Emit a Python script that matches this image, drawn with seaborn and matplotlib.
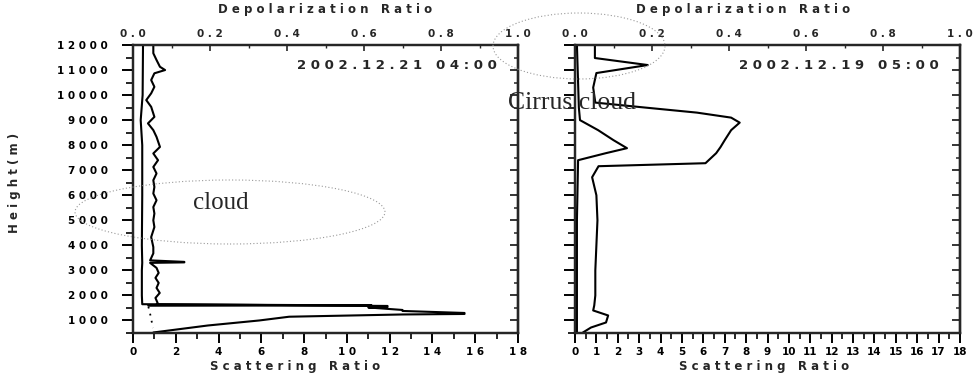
import matplotlib
matplotlib.use("Agg")
import matplotlib.pyplot as plt
import seaborn as sns
from matplotlib.patches import Ellipse
from matplotlib.ticker import MultipleLocator, FuncFormatter

# ---- 2002.12.21 04:00 profile (left) ----
left_height = [12000, 11670, 11400, 11130, 11000, 10870, 10600, 10330, 10070, 9800,
               9530, 9130, 8870, 8600, 8330, 7930, 7670, 7400, 7130, 6870,
               6600, 6330, 6070, 5800, 5530, 5270, 5000, 4730, 4330, 3930,
               3680, 3400, 3340, 3320, 3300, 3100, 2900, 2700, 2500, 2300,
               2100, 1900, 1700, 1650, 1580, 1540, 1520, 1420, 1380, 1300,
               1260, 1240, 1150, 1000, 800, 520]
left_scatter = [0.95, 0.95, 1.10, 1.26, 1.50, 1.00, 0.85, 1.00, 0.85, 0.62,
                0.85, 1.00, 0.70, 0.95, 1.10, 1.26, 0.95, 1.17, 0.95, 1.10,
                0.95, 1.00, 0.95, 1.10, 0.95, 1.00, 0.95, 1.00, 0.85, 0.95,
                0.95, 0.80, 2.40, 2.40, 0.80, 1.10, 1.20, 1.05, 1.20, 1.10,
                1.25, 1.05, 1.15, 1.10, 11.9, 11.9, 11.0, 12.6, 12.6, 15.5,
                15.5, 12.6, 7.3, 5.9, 3.5, 0.95]
left_depol_height = [12000, 10000, 9000, 8000, 6000, 4000, 3300, 3000, 2000, 1650, 1600, 1590]
left_depol = [0.026, 0.025, 0.020, 0.024, 0.024, 0.023, 0.024, 0.023, 0.023, 0.024, 0.62, 0.04]
left_depol_low_height = [1550, 1300, 1000, 700]
left_depol_low = [0.040, 0.044, 0.048, 0.052]

# ---- 2002.12.19 05:00 profile (right) ----
right_height = [12000, 11480, 11200, 10880, 10300, 9700, 9500, 9300, 9100, 8900,
                8600, 8200, 7920, 7680, 7280, 7160, 6720, 6000, 5000, 4000,
                3000, 2000, 1600, 1400, 1200, 920, 720, 520]
right_scatter = [0.93, 0.93, 3.4, 1.0, 0.85, 0.95, 3.3, 5.7, 7.3, 7.7,
                 7.3, 7.0, 6.8, 6.6, 6.1, 1.1, 0.8, 1.0, 1.05, 1.0,
                 0.95, 0.95, 0.9, 0.85, 1.55, 1.45, 0.75, 0.37]
right_depol_height = [12000, 9500, 9000, 8600, 8200, 7880, 7680, 7400, 5000, 520]
right_depol = [0.005, 0.01, 0.013, 0.06, 0.10, 0.135, 0.08, 0.008, 0.005, 0.005]

date_labels = ["2002.12.21 04:00", "2002.12.19 05:00"]


def spaced(s):
    return " ".join(s)


sns.set_style("ticks")
plt.rcParams["font.family"] = ["DejaVu Sans"]
plt.rcParams["axes.linewidth"] = 1.6

fig = plt.figure(figsize=(9.74, 3.76), dpi=100)
ax_l = fig.add_axes([133 / 974, 43 / 376, 385 / 974, 288 / 376])
ax_r = fig.add_axes([575 / 974, 43 / 376, 385 / 974, 288 / 376])


def style_axes(ax, right_panel):
    ax.set_xlim(0, 18)
    ax.set_ylim(500, 12000)
    ax.yaxis.set_major_locator(MultipleLocator(1000))
    ax.yaxis.set_minor_locator(MultipleLocator(500))
    if right_panel:
        ax.xaxis.set_major_locator(MultipleLocator(1))
        ax.xaxis.set_minor_locator(MultipleLocator(0.5))
        ax.yaxis.set_major_formatter(FuncFormatter(lambda v, p: ""))
        ax.xaxis.set_major_formatter(FuncFormatter(lambda v, p: f"{int(round(v))}"))
        xlab_x = 0.49
    else:
        ax.xaxis.set_major_locator(MultipleLocator(2))
        ax.xaxis.set_minor_locator(MultipleLocator(1))
        ax.yaxis.set_major_formatter(FuncFormatter(lambda v, p: spaced(str(int(round(v))))))
        ax.xaxis.set_major_formatter(FuncFormatter(lambda v, p: spaced(str(int(round(v))))))
        xlab_x = 0.42
    ax.tick_params(which="major", direction="out", length=7, width=1.4, colors="black", pad=3)
    ax.tick_params(which="minor", direction="out", length=4, width=1.2, colors="black")
    ax.tick_params(axis="y", which="major", length=8, pad=10)
    ax.tick_params(axis="y", which="minor", length=5)
    for lab in ax.get_xticklabels() + ax.get_yticklabels():
        lab.set_fontsize(7.5)
        lab.set_fontweight("bold")
    ax.set_xlabel(spaced("Scattering") + "   " + spaced("Ratio"),
                  fontsize=8.5, fontweight="bold")
    ax.xaxis.set_label_coords(xlab_x, -0.095)
    ax.set_ylabel("")
    for sp in ax.spines.values():
        sp.set_visible(True)
        sp.set_color("black")
        sp.set_linewidth(1.6)
    sec = ax.secondary_yaxis("right")
    sec.yaxis.set_major_locator(MultipleLocator(1000))
    sec.yaxis.set_minor_locator(MultipleLocator(500))
    sec.yaxis.set_major_formatter(FuncFormatter(lambda v, p: ""))
    sec.tick_params(which="major", direction="in", length=6, width=1.3)
    sec.tick_params(which="minor", direction="in", length=3, width=1.1)


def style_top(ax_t, label_x):
    ax_t.set_xlim(0, 1)
    ax_t.xaxis.set_major_locator(MultipleLocator(0.2))
    ax_t.xaxis.set_minor_locator(MultipleLocator(0.1))
    ax_t.xaxis.set_major_formatter(FuncFormatter(lambda v, p: spaced(f"{v:.1f}")))
    ax_t.tick_params(which="major", direction="in", length=4, width=1.2, pad=4)
    ax_t.tick_params(which="minor", direction="in", length=2, width=1.0)
    for lab in ax_t.get_xticklabels():
        lab.set_fontsize(7.5)
        lab.set_fontweight("bold")
    ax_t.set_xlabel(spaced("Depolarization") + "   " + spaced("Ratio"),
                    fontsize=8.5, fontweight="bold")
    ax_t.xaxis.set_label_coords(label_x, 1.11)


# left panel
sns.lineplot(x=left_scatter, y=left_height, sort=False, estimator=None,
             color="black", linewidth=1.5, ax=ax_l)
style_axes(ax_l, right_panel=False)
top_l = ax_l.twiny()
sns.lineplot(x=left_depol, y=left_depol_height, sort=False, estimator=None,
             color="black", linewidth=1.5, ax=top_l)
sns.lineplot(x=left_depol_low, y=left_depol_low_height, sort=False, estimator=None,
             color="black", linewidth=1.3, linestyle=(0, (1, 3)), ax=top_l)
ax_l.set_ylim(500, 12000)
style_top(top_l, 0.5)

# right panel
sns.lineplot(x=right_scatter, y=right_height, sort=False, estimator=None,
             color="black", linewidth=1.5, ax=ax_r)
style_axes(ax_r, right_panel=True)
top_r = ax_r.twiny()
sns.lineplot(x=right_depol, y=right_depol_height, sort=False, estimator=None,
             color="black", linewidth=1.5, ax=top_r)
ax_r.set_ylim(500, 12000)
style_top(top_r, 0.437)

ax_l.set_ylabel(spaced("Height") + " " + spaced("(m)"), fontsize=8.5, fontweight="bold")
ax_l.yaxis.set_label_coords(-0.29, 0.52)

for ax, lab in zip([ax_l, ax_r], date_labels):
    ax.text(0.945, 0.93, spaced(lab), transform=ax.transAxes, ha="right", va="center",
            fontsize=9.5, fontweight="bold")

# hand-drawn annotations
fig.patches.append(Ellipse((230 / 974, 1 - 212 / 376), 310 / 974, 64 / 376,
                           transform=fig.transFigure, fill=False, edgecolor="#999999",
                           linewidth=0.8, linestyle=(0, (1, 2))))
fig.patches.append(Ellipse((579 / 974, 1 - 46 / 376), 172 / 974, 66 / 376,
                           transform=fig.transFigure, fill=False, edgecolor="#999999",
                           linewidth=0.8, linestyle=(0, (1, 2))))
fig.text(193 / 974, 1 - 203 / 376, "cloud", fontsize=18, family="Liberation Serif",
         ha="left", va="center")
fig.text(508 / 974, 1 - 103 / 376, "Cirrus cloud", fontsize=18.5, family="Liberation Serif",
         ha="left", va="center")

fig.savefig("out.png", dpi=100, facecolor="white")
